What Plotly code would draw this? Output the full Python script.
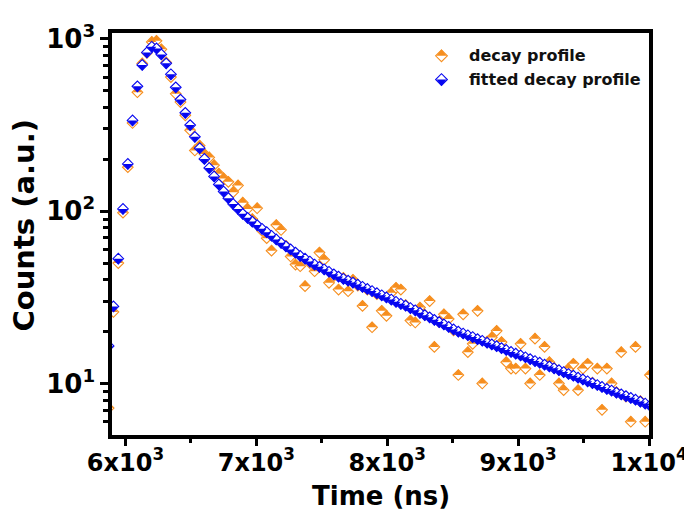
import plotly.graph_objects as go

# ---------------- data ----------------
time_ns = [5871, 5908, 5945, 5981, 6018, 6054, 6091, 6128, 6164, 6201,
           6237, 6274, 6311, 6347, 6384, 6420, 6457, 6494, 6530, 6567,
           6603, 6640, 6677, 6713, 6750, 6786, 6823, 6860, 6896, 6933,
           6969, 7006, 7043, 7079, 7116, 7152, 7189, 7226, 7262, 7299,
           7335, 7372, 7409, 7445, 7482, 7518, 7555, 7592, 7628, 7665,
           7701, 7738, 7775, 7811, 7848, 7884, 7921, 7958, 7994, 8031,
           8067, 8104, 8141, 8177, 8214, 8250, 8287, 8324, 8360, 8397,
           8433, 8470, 8507, 8543, 8580, 8616, 8653, 8690, 8726, 8763,
           8799, 8836, 8873, 8909, 8946, 8982, 9019, 9056, 9092, 9129,
           9165, 9202, 9239, 9275, 9312, 9348, 9385, 9422, 9458, 9495,
           9531, 9568, 9605, 9641, 9678, 9714, 9751, 9788, 9824, 9861,
           9897, 9934, 9971, 10007]

decay_counts = [7.2, 26, 50, 98, 180, 325, 490, 720, 830, 960,
                975, 870, 730, 600, 480, 430, 360, 295, 225, 240,
                215, 205, 185, 165, 155, 148, 129, 141, 112, 103,
                90, 104, 77, 69.7, 59, 83, 77.8, 63, 54.6, 49,
                47.9, 36.7, 50, 44.8, 57.5, 52.2, 38.4, 42, 35.1, 41,
                34.3, 40, 37, 28.2, 35, 21.2, 33, 26.4, 24.7, 33.6,
                35.9, 35.1, 28.5, 23.2, 22.6, 27.6, 25, 30.1, 16.3, 22.8,
                25.2, 23.7, 20.3, 11.2, 25.2, 15.2, 17, 26.4, 10, 17.5,
                18.5, 20.2, 17.4, 13.3, 12.2, 12.2, 17, 12.2, 10, 18.2,
                11.2, 16.3, 13.3, 12.3, 10, 9.15, 12.2, 13, 9.15, 12.2,
                13, 10.1, 12.2, 7.03, 12.2, 10, 8.9, 15.2, 8.4, 6.0,
                16.3, 7.9, 6.0, 11.2]

fit_counts = [16.5, 28, 53, 103, 188, 336, 530, 706, 834, 900,
              880, 812, 721, 623, 523, 444, 372, 316, 270, 232,
              201, 178, 159, 143, 130, 119, 110, 103, 96.5, 91.5,
              87, 83, 79, 75.5, 72, 68.5, 65.5, 62.5, 60, 57.5,
              55, 53, 51, 49, 47.5, 46, 44.5, 43, 41.7, 40.5,
              39.5, 38.5, 37.5, 36.4, 35.4, 34.4, 33.4, 32.5, 31.6, 30.7,
              29.8, 29.0, 28.3, 27.4, 26.6, 25.7, 24.9, 24.2, 23.4, 22.7,
              22.0, 21.3, 20.6, 20.0, 19.5, 19.05, 18.6, 18.1, 17.7, 17.25,
              16.85, 16.45, 16.05, 15.65, 15.25, 14.9, 14.55, 14.2, 13.85, 13.5,
              13.2, 12.85, 12.55, 12.25, 11.95, 11.65, 11.35, 11.1, 10.8, 10.55,
              10.3, 10.05, 9.8, 9.55, 9.3, 9.1, 8.85, 8.65, 8.45, 8.25,
              8.05, 7.85, 7.65, 7.45]

x_tickvals = [6000, 7000, 8000, 9000, 10000]
x_ticktext = ["6x10<sup>3</sup>", "7x10<sup>3</sup>", "8x10<sup>3</sup>",
              "9x10<sup>3</sup>", "1x10<sup>4</sup>"]
x_minor = [6500, 7500, 8500, 9500]
y_tickvals = [10, 100, 1000]
y_ticktext = ["10<sup>1</sup>", "10<sup>2</sup>", "10<sup>3</sup>"]
y_minor = [6, 7, 8, 9, 20, 30, 40, 50, 60, 70, 80, 90,
           200, 300, 400, 500, 600, 700, 800, 900]
series_names = ["decay profile", "fitted decay profile"]

# ---------------- style / layout ----------------
ORANGE = "#F68E1E"
BLUE = "#0606F0"
FONT = "DejaVu Sans"

W, H = 692, 512
ML, MR, MT, MB = 104, 42, 21, 85
x_range = [5897, 10000]
y_range = [0.701, 3.034]
plot_w = W - ML - MR
plot_h = H - MT - MB
px_per_decade = plot_h / (y_range[1] - y_range[0])

S = 8.2    # diamond marker size
T = 7.8    # triangle marker size (one filled half of the diamond)

fig = go.Figure()


def half_diamond(xs, ys, color, top, size, tri, log_y=True, xa="x", ya="y"):
    """Diamond with white fill + coloured outline, one half filled."""
    fig.add_trace(go.Scatter(
        x=xs, y=ys, mode="markers", xaxis=xa, yaxis=ya, showlegend=False,
        hoverinfo="skip",
        marker=dict(symbol="diamond", size=size, color="white",
                    line=dict(color=color, width=1.1))))
    off_px = tri / 4.0  # triangle base sits r/2 from its centre
    if log_y:
        fac = 10 ** (off_px / px_per_decade)
        ty = [v * fac for v in ys] if top else [v / fac for v in ys]
    else:  # pixel overlay axis, reversed (smaller value = higher)
        ty = [v - off_px for v in ys] if top else [v + off_px for v in ys]
    fig.add_trace(go.Scatter(
        x=xs, y=ty, mode="markers", xaxis=xa, yaxis=ya, showlegend=False,
        hoverinfo="skip",
        marker=dict(symbol="triangle-up" if top else "triangle-down",
                    size=tri, color=color, line=dict(width=0))))


half_diamond(time_ns, decay_counts, ORANGE, True, S, T)
half_diamond(time_ns, fit_counts, BLUE, False, S, T)

# legend drawn on a pixel overlay axis
legend_x = [439]
legend_y = [44, 68]
half_diamond(legend_x, [legend_y[0]], ORANGE, True, 9, 8.6, False, "x2", "y2")
half_diamond(legend_x, [legend_y[1]], BLUE, False, 9, 8.6, False, "x2", "y2")
for name, ly in zip(series_names, legend_y):
    fig.add_annotation(x=465, y=ly, xref="x2", yref="y2", text=name,
                       showarrow=False, xanchor="left", yanchor="middle",
                       font=dict(family=FONT, size=16, color="#111111",
                                 weight="bold"))

xtickfont = dict(family=FONT, size=24, color="black", weight="bold")
ytickfont = dict(family=FONT, size=26, color="black", weight="bold")

fig.update_layout(
    width=W, height=H,
    margin=dict(l=ML, r=MR, t=MT, b=MB, pad=0),
    paper_bgcolor="white", plot_bgcolor="white",
    showlegend=False,
    xaxis=dict(range=x_range, tickmode="array", tickvals=x_tickvals,
               ticktext=x_ticktext, ticks="outside", ticklen=7, tickwidth=3,
               tickcolor="black", showline=True, linewidth=3.5,
               linecolor="black", mirror=True, showgrid=False,
               zeroline=False, tickfont=xtickfont, ticklabelstandoff=-4,
               minor=dict(tickvals=x_minor, ticks="outside", ticklen=4,
                          tickwidth=3, tickcolor="black", showgrid=False)),
    yaxis=dict(type="log", range=y_range, tickmode="array",
               tickvals=y_tickvals, ticktext=y_ticktext, ticks="outside",
               ticklen=8, tickwidth=3, tickcolor="black", showline=True,
               linewidth=3.5, linecolor="black", mirror=True,
               showgrid=False, zeroline=False, tickfont=ytickfont,
               minor=dict(tickvals=y_minor, ticks="outside", ticklen=5,
                          tickwidth=3, tickcolor="black", showgrid=False)),
    xaxis2=dict(overlaying="x", range=[ML, W - MR], visible=False,
                fixedrange=True),
    yaxis2=dict(overlaying="y", range=[H - MB, MT], visible=False,
                fixedrange=True),
)

fig.add_annotation(x=0.5, y=(H - MB - 489) / plot_h, xref="paper",
                   yref="paper", text="Time (ns)", showarrow=False,
                   xanchor="center", yanchor="middle",
                   font=dict(family=FONT, size=26, color="black",
                             weight="bold"))
fig.add_annotation(x=(15 - ML) / plot_w, y=(H - MB - 215) / plot_h,
                   xref="paper", yref="paper", text="Counts (a.u.)",
                   textangle=-90, showarrow=False, xanchor="center",
                   yanchor="middle",
                   font=dict(family=FONT, size=29, color="black",
                             weight="bold"))

fig.write_html("out.html")
